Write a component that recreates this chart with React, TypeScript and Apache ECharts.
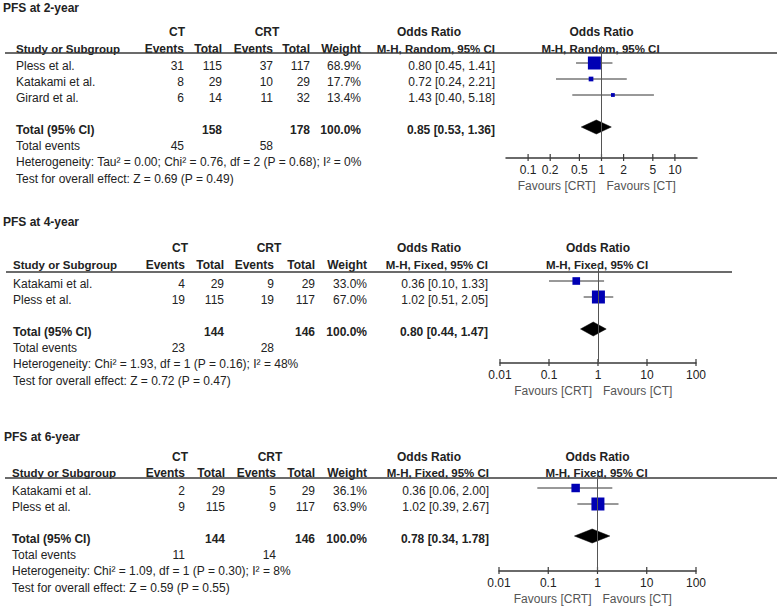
import React, { useEffect, useRef } from "react";
import * as echarts from "echarts";

// ---------- Panel 1: PFS at 2-year ----------
const p1Title = "PFS at 2-year";
const p1Studies = ["Pless et al.", "Katakami et al.", "Girard et al."];
const p1CtEvents = [31, 8, 6];
const p1CtTotal = [115, 29, 14];
const p1CrtEvents = [37, 10, 11];
const p1CrtTotal = [117, 29, 32];
const p1Weights = [68.9, 17.7, 13.4];
const p1OR = [0.8, 0.72, 1.43];
const p1Lo = [0.45, 0.24, 0.4];
const p1Hi = [1.41, 2.21, 5.18];
const p1Total = [0.85, 0.53, 1.36];
const p1Method = "M-H, Random, 95% CI";
const p1Het = "Heterogeneity: Tau² = 0.00; Chi² = 0.76, df = 2 (P = 0.68); I² = 0%";
const p1Test = "Test for overall effect: Z = 0.69 (P = 0.49)";
const p1Ticks = [0.1, 0.2, 0.5, 1, 2, 5, 10];
const p1Range = [0.05, 20];

// ---------- Panel 2: PFS at 4-year ----------
const p2Title = "PFS at 4-year";
const p2Studies = ["Katakami et al.", "Pless et al."];
const p2CtEvents = [4, 19];
const p2CtTotal = [29, 115];
const p2CrtEvents = [9, 19];
const p2CrtTotal = [29, 117];
const p2Weights = [33.0, 67.0];
const p2OR = [0.36, 1.02];
const p2Lo = [0.1, 0.51];
const p2Hi = [1.33, 2.05];
const p2Total = [0.8, 0.44, 1.47];
const p2Method = "M-H, Fixed, 95% CI";
const p2Het = "Heterogeneity: Chi² = 1.93, df = 1 (P = 0.16); I² = 48%";
const p2Test = "Test for overall effect: Z = 0.72 (P = 0.47)";
const p2Ticks = [0.01, 0.1, 1, 10, 100];
const p2Range = [0.01, 100];

// ---------- Panel 3: PFS at 6-year ----------
const p3Title = "PFS at 6-year";
const p3Studies = ["Katakami et al.", "Pless et al."];
const p3CtEvents = [2, 9];
const p3CtTotal = [29, 115];
const p3CrtEvents = [5, 9];
const p3CrtTotal = [29, 117];
const p3Weights = [36.1, 63.9];
const p3OR = [0.36, 1.02];
const p3Lo = [0.06, 0.39];
const p3Hi = [2.0, 2.67];
const p3Total = [0.78, 0.34, 1.78];
const p3Method = "M-H, Fixed, 95% CI";
const p3Het = "Heterogeneity: Chi² = 1.09, df = 1 (P = 0.30); I² = 8%";
const p3Test = "Test for overall effect: Z = 0.59 (P = 0.55)";
const p3Ticks = [0.01, 0.1, 1, 10, 100];
const p3Range = [0.01, 100];

const groupLabels = ["CT", "CRT"];
const colHeaders = ["Study or Subgroup", "Events", "Total", "Events", "Total", "Weight"];
const orHeader = "Odds Ratio";
const totalLabel = "Total (95% CI)";
const totalEventsLabel = "Total events";
const favours = ["Favours [CRT]", "Favours [CT]"];

const panels = [
  { title: p1Title, studies: p1Studies, ctE: p1CtEvents, ctN: p1CtTotal, crtE: p1CrtEvents, crtN: p1CrtTotal, w: p1Weights, or: p1OR, lo: p1Lo, hi: p1Hi, total: p1Total, method: p1Method, het: p1Het, test: p1Test, ticks: p1Ticks, range: p1Range },
  { title: p2Title, studies: p2Studies, ctE: p2CtEvents, ctN: p2CtTotal, crtE: p2CrtEvents, crtN: p2CrtTotal, w: p2Weights, or: p2OR, lo: p2Lo, hi: p2Hi, total: p2Total, method: p2Method, het: p2Het, test: p2Test, ticks: p2Ticks, range: p2Range },
  { title: p3Title, studies: p3Studies, ctE: p3CtEvents, ctN: p3CtTotal, crtE: p3CrtEvents, crtN: p3CrtTotal, w: p3Weights, or: p3OR, lo: p3Lo, hi: p3Hi, total: p3Total, method: p3Method, het: p3Het, test: p3Test, ticks: p3Ticks, range: p3Range },
];

// layout (pixels)
const layouts = [
  { titleY: 8, groupY: 32, headY: 49, rule: 53, ruleStart: 5, ruleEnd: 777, firstRow: 63, plotTop: 46, axis: 158, left: 506, right: 697, nameX: 16, titleX: 3, cols: [184, 222, 273, 310, 361, 495], ctX: 177, crtX: 267, orX: 429 },
  { titleY: 222, groupY: 248, headY: 265, rule: 272, ruleStart: 6, ruleEnd: 732, firstRow: 281, plotTop: 264, axis: 363, left: 500, right: 696, nameX: 13, titleX: 3, cols: [185, 224, 274, 315, 367, 488], ctX: 180, crtX: 269, orX: 429 },
  { titleY: 437, groupY: 457, headY: 473, rule: 478, ruleStart: 5, ruleEnd: 777, firstRow: 488, plotTop: 470, axis: 571, left: 499, right: 696, nameX: 12, titleX: 4, cols: [185, 225, 276, 315, 367, 489], ctX: 180, crtX: 270, orX: 429 },
];

const ROW_H = 16;
const FONT = '"Liberation Sans", Arial, Helvetica, sans-serif';
const TEXT = "#222";
const fmt2 = (v: number) => v.toFixed(2);
const orText = (a: number, b: number, c: number) => `${fmt2(a)} [${fmt2(b)}, ${fmt2(c)}]`;
const sum = (a: number[]) => a.reduce((s, v) => s + v, 0);

function txt(x: number, y: number, text: string, align = "left", bold = false, size = 12, color = TEXT) {
  return {
    type: "text",
    x,
    y,
    silent: true,
    style: {
      text,
      fill: color,
      font: `${bold ? "bold " : ""}${size}px ${FONT}`,
      textAlign: align,
      align,
      textVerticalAlign: "middle",
      verticalAlign: "middle",
    },
  };
}

function hline(x1: number, x2: number, y: number, w = 1.5, c = "#3a3a3a") {
  return { type: "line", silent: true, shape: { x1, y1: y, x2, y2: y }, style: { stroke: c, lineWidth: w } };
}

function buildOption() {
  const graphics: any[] = [];
  const grids: any[] = [];
  const xAxes: any[] = [];
  const yAxes: any[] = [];
  const series: any[] = [];

  panels.forEach((p, i) => {
    const L = layouts[i];
    const n = p.studies.length;
    const lmin = Math.log10(p.range[0]);
    const lmax = Math.log10(p.range[1]);
    const xOne = L.left + ((L.right - L.left) * (0 - lmin)) / (lmax - lmin);

    // Title and headers
    graphics.push(txt(L.titleX, L.titleY, p.title, "left", true, 12));
    graphics.push(txt(L.ctX, L.groupY, groupLabels[0], "center", true, 12));
    graphics.push(txt(L.crtX, L.groupY, groupLabels[1], "center", true, 12));
    graphics.push(txt(L.orX, L.groupY, orHeader, "center", true, 12));
    graphics.push(txt(xOne, L.groupY, orHeader, "center", true, 12));
    graphics.push(txt(L.nameX, L.headY, colHeaders[0], "left", true, 11.5));
    for (let c = 1; c <= 5; c++) graphics.push(txt(L.cols[c - 1], L.headY, colHeaders[c], "right", true, 12));
    graphics.push(txt(L.cols[5], L.headY, p.method, "right", true, 11.5));
    graphics.push(txt(xOne - 1, L.headY, p.method, "center", true, 11.5));
    graphics.push(hline(L.ruleStart, L.ruleEnd, L.rule));

    // Study rows
    p.studies.forEach((s, k) => {
      const y = L.firstRow + k * ROW_H + 3;
      graphics.push(txt(L.nameX, y, s));
      graphics.push(txt(L.cols[0], y, String(p.ctE[k]), "right"));
      graphics.push(txt(L.cols[1], y, String(p.ctN[k]), "right"));
      graphics.push(txt(L.cols[2], y, String(p.crtE[k]), "right"));
      graphics.push(txt(L.cols[3], y, String(p.crtN[k]), "right"));
      graphics.push(txt(L.cols[4], y, p.w[k].toFixed(1) + "%", "right"));
      graphics.push(txt(L.cols[5], y, orText(p.or[k], p.lo[k], p.hi[k]), "right"));
    });

    // Total rows
    const ty = L.firstRow + (n + 1) * ROW_H + 3;
    graphics.push(txt(L.nameX, ty, totalLabel, "left", true));
    graphics.push(txt(L.cols[1], ty, String(sum(p.ctN)), "right", true));
    graphics.push(txt(L.cols[3], ty, String(sum(p.crtN)), "right", true));
    graphics.push(txt(L.cols[4], ty, sum(p.w).toFixed(1) + "%", "right", true));
    graphics.push(txt(L.cols[5], ty, orText(p.total[0], p.total[1], p.total[2]), "right", true));
    graphics.push(txt(L.nameX, ty + 16, totalEventsLabel));
    graphics.push(txt(L.cols[0], ty + 16, String(sum(p.ctE)), "right"));
    graphics.push(txt(L.cols[2], ty + 16, String(sum(p.crtE)), "right"));
    graphics.push(txt(L.nameX, ty + 32, p.het));
    graphics.push(txt(L.nameX, ty + 49, p.test));

    // Favours labels
    const fy = L.axis + 28;
    graphics.push(txt(xOne - 6, fy, favours[0], "right", false, 12, "#555"));
    graphics.push(txt(xOne + 5, fy, favours[1], "left", false, 12, "#555"));

    // Plot
    grids.push({ left: L.left, top: L.plotTop, width: L.right - L.left, height: L.axis - L.plotTop });
    xAxes.push({
      gridIndex: i,
      type: "value",
      min: lmin,
      max: lmax,
      splitLine: { show: false },
      axisLine: { show: true, onZero: false, lineStyle: { color: "#3a3a3a", width: 1.5 } },
      axisTick: { show: false },
      axisLabel: {
        show: true,
        customValues: p.ticks.map((t) => Math.log10(t)),
        formatter: (v: number) => String(Number(Math.pow(10, v).toPrecision(3))),
        color: TEXT,
        fontSize: 12,
        fontFamily: FONT,
        margin: 6,
      },
    });
    const yMin = -(L.firstRow - L.plotTop) / ROW_H;
    const yMax = (L.axis - L.firstRow) / ROW_H;
    yAxes.push({ gridIndex: i, type: "value", inverse: true, min: yMin, max: yMax, show: false });

    const maxW = Math.max(...p.w);
    const data: any[] = p.studies.map((_, k) => [p.or[k], p.lo[k], p.hi[k], k, 0, 13 * Math.pow(p.w[k] / maxW, 0.75)]);
    data.push([p.total[0], p.total[1], p.total[2], n + 1, 1, 0]);

    series.push({
      type: "custom",
      xAxisIndex: i,
      yAxisIndex: i,
      encode: { x: 0, y: 3 },
      data,
      clip: false,
      silent: true,
      renderItem: (params: any, api: any) => {
        const row = api.value(3);
        const [xc, y] = api.coord([Math.log10(api.value(0)), row]);
        const [xl] = api.coord([Math.log10(api.value(1)), row]);
        const [xh] = api.coord([Math.log10(api.value(2)), row]);
        if (api.value(4) === 1) {
          const h = 7;
          return {
            type: "polygon",
            shape: { points: [[xl, y], [xc, y - h], [xh, y], [xc, y + h]] },
            style: { fill: "#000", stroke: "#000", lineWidth: 0.5 },
          };
        }
        const s = api.value(5);
        return {
          type: "group",
          children: [
            { type: "line", shape: { x1: xl, y1: y, x2: xh, y2: y }, style: { stroke: "#333", lineWidth: 1 } },
            { type: "rect", shape: { x: xc - s / 2, y: y - s / 2, width: s, height: s }, style: { fill: "#0000b4" } },
          ],
        };
      },
      markLine: {
        silent: true,
        symbol: ["none", "none"],
        label: { show: false },
        lineStyle: { color: "#555", width: 1, type: "solid" },
        data: [{ xAxis: 0 }],
      },
      z: 3,
    });

    // tick marks crossing the axis
    series.push({
      type: "custom",
      xAxisIndex: i,
      yAxisIndex: i,
      encode: { x: 0 },
      data: p.ticks.map((t) => [Math.log10(t)]),
      clip: false,
      silent: true,
      renderItem: (params: any, api: any) => {
        const [x] = api.coord([api.value(0), 0]);
        const y = params.coordSys.y + params.coordSys.height;
        return { type: "line", shape: { x1: x, y1: y - 4, x2: x, y2: y + 3 }, style: { stroke: "#3a3a3a", lineWidth: 1.2 } };
      },
    });
  });

  return {
    animation: false,
    backgroundColor: "#fff",
    grid: grids,
    xAxis: xAxes,
    yAxis: yAxes,
    series,
    graphic: { elements: graphics },
  };
}

export default function App() {
  const ref = useRef<HTMLDivElement>(null);
  useEffect(() => {
    if (!ref.current) return;
    const chart = echarts.init(ref.current, undefined, { renderer: "svg" });
    chart.setOption(buildOption() as any);
    return () => chart.dispose();
  }, []);
  return (
    <div
      ref={ref}
      style={{ position: "absolute", left: 0, top: 0, width: 778, height: 607, background: "#fff" }}
    />
  );
}
